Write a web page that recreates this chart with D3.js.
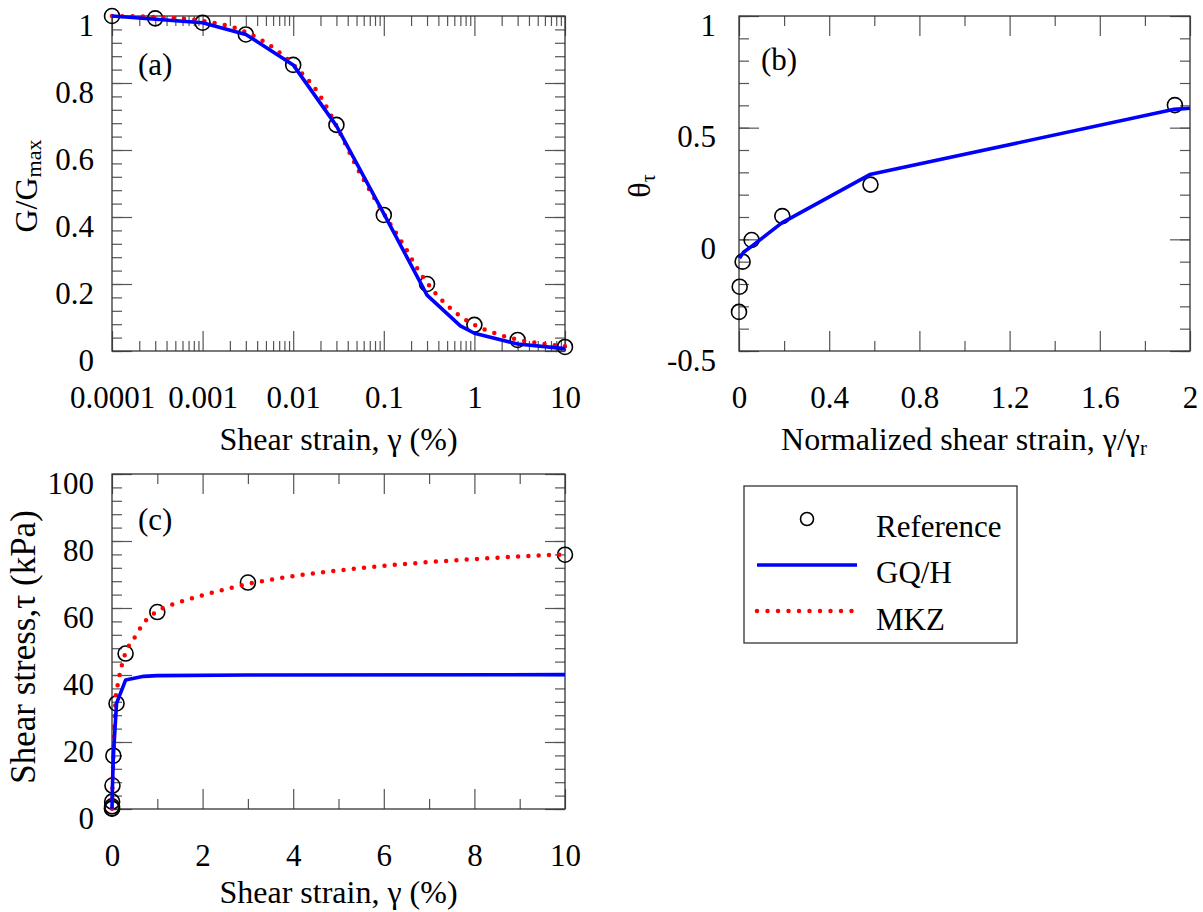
<!DOCTYPE html>
<html lang="en">
<head>
<meta charset="UTF-8">
<script src="https://d3js.org/d3.v7.min.js"></script>
<style>
  body { margin: 0; background: #fff; }
  svg text { font-family: "Liberation Serif", "Times New Roman", serif; fill: #000; }
</style>
</head>
<body>
<svg id="fig" width="1203" height="912"></svg>
<script>
// ---- data ----
// (a) modulus reduction
const strainRef = [0.0001, 0.0003, 0.001, 0.003, 0.01, 0.03, 0.1, 0.3, 1, 3, 10];
const ggmaxRef  = [1.0, 0.993, 0.98, 0.945, 0.854, 0.675, 0.406, 0.20, 0.078, 0.033, 0.012];
const strainGQ  = [0.0001, 0.001, 0.003, 0.01, 0.03, 0.1, 0.3, 0.7, 1, 3, 10];
const ggmaxGQ   = [1.0, 0.98, 0.945, 0.854, 0.672, 0.41, 0.167, 0.075, 0.053, 0.021, 0.007];
const strainMKZ = [0.0001, 0.0003, 0.001, 0.003, 0.01, 0.02, 0.03, 0.05, 0.1, 0.18, 0.23, 0.36, 0.53, 0.8, 1, 1.6, 3, 5, 10];
const ggmaxMKZ  = [1.0, 0.997, 0.985, 0.952, 0.855, 0.76, 0.672, 0.55, 0.41, 0.30, 0.25, 0.177, 0.13, 0.093, 0.078, 0.055, 0.034, 0.024, 0.014];

// (b) theta_tau vs normalized strain
const normRef   = [0.0, 0.003, 0.016, 0.056, 0.192, 0.583, 1.933];
const thetaRef  = [-0.325, -0.212, -0.10, -0.003, 0.104, 0.245, 0.601];
const normGQ    = [0.002, 0.02, 0.06, 0.19, 0.58, 1.93, 2.0];
const thetaGQ   = [-0.085, -0.058, -0.028, 0.074, 0.29, 0.582, 0.587];

// (c) stress-strain
const stressRef = [0.08, 0.25, 0.8, 2.2, 7.0, 15.9, 31.5, 46.4, 58.8, 67.6, 75.9];
const stressGQ  = [0.08, 0.78, 2.2, 6.6, 15.7, 31.5, 38.5, 39.6, 39.8, 40.0, 40.1];
const strainMKZc = [0.0001, 0.003, 0.01, 0.03, 0.05, 0.085, 0.12, 0.16, 0.27, 0.49, 0.73, 1, 1.5, 2, 2.5, 3, 4, 5, 6, 7, 8, 9, 10];
const stressMKZc = [0.08, 2.3, 6.9, 16, 24, 33.6, 36.6, 39.5, 45.5, 51, 56, 59, 61.8, 63.8, 65.6, 67.2, 69.5, 71.2, 72.6, 73.7, 74.6, 75.4, 76];

// ticks
const xTicksA = [0.0001, 0.001, 0.01, 0.1, 1, 10];
const xLabelsA = ["0.0001", "0.001", "0.01", "0.1", "1", "10"];
const yTicksA = [0, 0.2, 0.4, 0.6, 0.8, 1];
const yLabelsA = ["0", "0.2", "0.4", "0.6", "0.8", "1"];
const xTicksB = [0, 0.4, 0.8, 1.2, 1.6, 2];
const xLabelsB = ["0", "0.4", "0.8", "1.2", "1.6", "2"];
const yTicksB = [-0.5, 0, 0.5, 1];
const yLabelsB = ["-0.5", "0", "0.5", "1"];
const xTicksC = [0, 2, 4, 6, 8, 10];
const yTicksC = [0, 20, 40, 60, 80, 100];

const legendNames = ["Reference", "GQ/H", "MKZ"];

const svg = d3.select("#fig");
const BLUE = "#0000ff", RED = "#ff0000";

function zip(a, b) { return a.map((v, i) => [v, b[i]]); }

function axes(x, y, o) {
    const g = svg.append("g");
    const [x0, x1] = x.range(), [y0, y1] = y.range();
    const style = sel => {
        sel.select(".domain").remove();
        sel.selectAll("line").attr("stroke", "#555").attr("stroke-width", 1.2);
        sel.attr("font-size", null).attr("font-family", null);
        sel.selectAll("text").attr("font-size", 31);
    };
    // minor ticks
    g.append("g").attr("transform", `translate(0,${y0})`)
        .call(d3.axisBottom(x).tickValues(o.xMinor).tickSize(-10).tickFormat("")).call(style);
    g.append("g").attr("transform", `translate(0,${y1})`)
        .call(d3.axisTop(x).tickValues(o.xMinor).tickSize(-10).tickFormat("")).call(style);
    g.append("g").attr("transform", `translate(${x0},0)`)
        .call(d3.axisLeft(y).tickValues(o.yMinor).tickSize(-10).tickFormat("")).call(style);
    g.append("g").attr("transform", `translate(${x1},0)`)
        .call(d3.axisRight(y).tickValues(o.yMinor).tickSize(-10).tickFormat("")).call(style);
    // major ticks
    g.append("g").attr("transform", `translate(0,${y0})`)
        .call(d3.axisBottom(x).tickValues(o.xTicks).tickSize(-20).tickPadding(35)
            .tickFormat((d, i) => o.xLabels[i])).call(style);
    g.append("g").attr("transform", `translate(0,${y1})`)
        .call(d3.axisTop(x).tickValues(o.xTicks).tickSize(-20).tickFormat("")).call(style);
    g.append("g").attr("transform", `translate(${x0},0)`)
        .call(d3.axisLeft(y).tickValues(o.yTicks).tickSize(-20).tickPadding(o.yPad)
            .tickFormat((d, i) => o.yLabels[i])).call(style)
        .selectAll("text").attr("dy", "0.62em");
    g.append("g").attr("transform", `translate(${x1},0)`)
        .call(d3.axisRight(y).tickValues(o.yTicks).tickSize(-20).tickFormat("")).call(style);
    // frame
    g.append("rect").attr("x", x0).attr("y", y1).attr("width", x1 - x0).attr("height", y0 - y1)
        .attr("fill", "none").attr("stroke", "#333").attr("stroke-width", 1.3);
}

function refCircles(data, x, y, r) {
    svg.append("g").selectAll("circle").data(data).enter().append("circle")
        .attr("cx", d => x(d[0])).attr("cy", d => y(d[1])).attr("r", r)
        .attr("fill", "none").attr("stroke", "#000").attr("stroke-width", 1.6);
}
function solid(data, x, y) {
    svg.append("path").attr("d", d3.line().x(d => x(d[0])).y(d => y(d[1]))(data))
        .attr("fill", "none").attr("stroke", BLUE).attr("stroke-width", 3.6).attr("stroke-linejoin", "round");
}
function dotted(data, x, y) {
    svg.append("path").attr("d", d3.line().curve(d3.curveMonotoneX).x(d => x(d[0])).y(d => y(d[1]))(data))
        .attr("fill", "none").attr("stroke", RED).attr("stroke-width", 4.5)
        .attr("stroke-linecap", "round").attr("stroke-dasharray", "0 10.3");
}

// ---------- panel (a) ----------
const xA = d3.scaleLog().domain([0.0001, 10]).range([112, 565]);
const yA = d3.scaleLinear().domain([0, 1]).range([351, 16]);
const xMinorA = [];
xTicksA.slice(0, -1).forEach(d => { for (let k = 2; k <= 9; k++) xMinorA.push(d * k); });
axes(xA, yA, { xTicks: xTicksA, xLabels: xLabelsA, xMinor: xMinorA,
    yTicks: yTicksA, yLabels: yLabelsA, yMinor: d3.range(0, 1.0001, 0.04), yPad: 18 });
refCircles(zip(strainRef, ggmaxRef), xA, yA, 7.5);
dotted(zip(strainMKZ, ggmaxMKZ), xA, yA);
solid(zip(strainGQ, ggmaxGQ), xA, yA);

svg.append("text").attr("x", 138).attr("y", 75).attr("font-size", 31).text("(a)");
svg.append("text").attr("x", 338.5).attr("y", 450).attr("font-size", 32)
    .attr("text-anchor", "middle").text("Shear strain, \u03b3 (%)");
const tA = svg.append("text").attr("transform", "translate(37,186) rotate(-90)")
    .attr("text-anchor", "middle").attr("font-size", 32);
tA.append("tspan").text("G/G");
tA.append("tspan").attr("font-size", 22).attr("dy", 4).text("max");

// ---------- panel (b) ----------
const xB = d3.scaleLinear().domain([0, 2]).range([739, 1190]);
const yB = d3.scaleLinear().domain([-0.5, 1]).range([351, 16]);
axes(xB, yB, { xTicks: xTicksB, xLabels: xLabelsB, xMinor: [0.2, 0.6, 1.0, 1.4, 1.8],
    yTicks: yTicksB, yLabels: yLabelsB, yMinor: d3.range(-0.5, 1.0001, 0.1), yPad: 23 });
refCircles(zip(normRef, thetaRef), xB, yB, 7.5);
solid(zip(normGQ, thetaGQ), xB, yB);

svg.append("text").attr("x", 761).attr("y", 70).attr("font-size", 31).text("(b)");
const tBx = svg.append("text").attr("x", 964).attr("y", 450).attr("font-size", 32)
    .attr("text-anchor", "middle");
tBx.append("tspan").text("Normalized shear strain, \u03b3/\u03b3");
tBx.append("tspan").attr("font-size", 21).attr("dy", 5).text("r");
const tBy = svg.append("text").attr("transform", "translate(650,186) rotate(-90)")
    .attr("text-anchor", "middle").attr("font-size", 32);
tBy.append("tspan").text("\u03b8");
tBy.append("tspan").attr("font-size", 20).attr("dy", 5).text("\u03c4");

// ---------- panel (c) ----------
const xC = d3.scaleLinear().domain([0, 10]).range([112, 565]);
const yC = d3.scaleLinear().domain([0, 100]).range([809, 474]);
axes(xC, yC, { xTicks: xTicksC, xLabels: xTicksC.map(String), xMinor: [1, 3, 5, 7, 9],
    yTicks: yTicksC, yLabels: yTicksC.map(String), yMinor: d3.range(0, 100.1, 4), yPad: 18 });
refCircles(zip(strainRef, stressRef), xC, yC, 7.5);
dotted(zip(strainMKZc, stressMKZc), xC, yC);
solid(zip(strainGQ, stressGQ), xC, yC);

svg.append("text").attr("x", 138).attr("y", 530).attr("font-size", 31).text("(c)");
svg.append("text").attr("x", 338.5).attr("y", 903).attr("font-size", 32)
    .attr("text-anchor", "middle").text("Shear strain, \u03b3 (%)");
svg.append("text").attr("transform", "translate(35,647) rotate(-90)")
    .attr("text-anchor", "middle").attr("font-size", 35).text("Shear stress,\u03c4 (kPa)");

// ---------- legend ----------
const lg = svg.append("g");
lg.append("rect").attr("x", 744).attr("y", 486).attr("width", 273).attr("height", 157)
    .attr("fill", "#fff").attr("stroke", "#333").attr("stroke-width", 1.3);
lg.append("circle").attr("cx", 807).attr("cy", 519).attr("r", 6.5)
    .attr("fill", "none").attr("stroke", "#000").attr("stroke-width", 1.6);
lg.append("line").attr("x1", 757).attr("x2", 857).attr("y1", 565).attr("y2", 565)
    .attr("stroke", BLUE).attr("stroke-width", 3.6);
lg.append("line").attr("x1", 757).attr("x2", 853).attr("y1", 611).attr("y2", 611)
    .attr("stroke", RED).attr("stroke-width", 4.5).attr("stroke-linecap", "round")
    .attr("stroke-dasharray", "0 10.5");
lg.selectAll("text.lab").data(legendNames).enter().append("text")
    .attr("x", 876).attr("y", (d, i) => [537, 583, 630][i]).attr("font-size", 31).text(d => d);
</script>
</body>
</html>
